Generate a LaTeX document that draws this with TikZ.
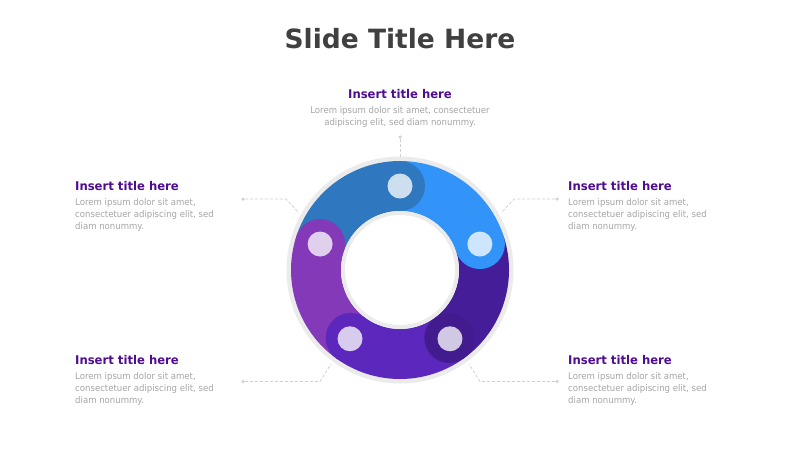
\documentclass[tikz,border=0pt]{standalone}
\usepackage{fontspec}
\setmainfont{DejaVu Sans}
\newfontfamily\bodyfont[FakeStretch=0.93]{DejaVu Sans}
\newfontfamily\headfont[FakeStretch=0.97]{DejaVu Sans}
\definecolor{titlegrey}{HTML}{404040}
\definecolor{headpurple}{HTML}{4F0D91}
\definecolor{bodygrey}{HTML}{A6A6A6}
\definecolor{ringgrey}{HTML}{EBEBEB}
\definecolor{linegrey}{HTML}{D0D0D0}
\definecolor{segA}{HTML}{2F78C0}
\definecolor{segB}{HTML}{3294F8}
\definecolor{segC}{HTML}{461D99}
\definecolor{segCcap}{HTML}{421B8E}
\definecolor{segD}{HTML}{5B27BC}
\definecolor{segE}{HTML}{8439B8}
\tikzset{
  head/.style={inner sep=0pt, font=\headfont\bfseries\fontsize{12}{14}\selectfont, text=headpurple},
  body/.style={inner sep=0pt, font=\bodyfont\fontsize{9.2}{12}\selectfont, text=bodygrey},
  conn/.style={draw=linegrey, line width=0.8pt, dash pattern=on 3pt off 2pt},
  enddot/.style={circle, fill=linegrey, inner sep=0pt, minimum size=3.5pt},
  marker/.style={circle, fill=white, fill opacity=0.76, inner sep=0pt, minimum size=25pt}
}
\begin{document}
\begin{tikzpicture}[x=1pt,y=-1pt]
\useasboundingbox (0,0) rectangle (800,450);
\fill[white] (0,0) rectangle (800,450);
% title
\node[anchor=base, inner sep=0pt, font=\bfseries\fontsize{26.5}{30}\selectfont, text=titlegrey] (title) at (400,48) {Slide Title Here};
% ring
\begin{scope}[shift={(400,270)}, yscale=-1]
  \fill[ringgrey] (0,0) circle (113.5);
  \foreach \a/\c in {162/segA, 90/segB, 18/segC, -54/segD, -126/segE}{
    \fill[\c] (\a:109) arc[start angle=\a, end angle=\a-72, radius=109]
      -- (\a-72:59) arc[start angle=\a-72, end angle=\a, radius=59] -- cycle;
  }
  \foreach \a/\c in {90/segA, 18/segB, -54/segCcap, -126/segD, 162/segE}{
    \fill[\c] (\a:84) circle (25);
  }
  \fill[ringgrey] (0,0) circle (59);
  \fill[white] (0,0) circle (55);
  \node[marker] (m1) at (90:84) {};
  \node[marker] (m2) at (18:84) {};
  \node[marker] (m3) at (-54:85) {};
  \node[marker] (m4) at (-126:85) {};
  \node[marker] (m5) at (162:84) {};
\end{scope}
% connectors
\node[enddot] (d1) at (400,137) {};
\coordinate (r1) at (400,157);
\draw[conn] (d1) -- (r1);
\node[enddot] (d2) at (243,199) {};
\coordinate (k2) at (286,199);
\coordinate (r2) at (298,212);
\draw[conn] (d2) -- (k2) -- (r2);
\node[enddot] (d3) at (557,199) {};
\coordinate (k3) at (514,199);
\coordinate (r3) at (502,212);
\draw[conn] (d3) -- (k3) -- (r3);
\node[enddot] (d4) at (243,381.5) {};
\coordinate (k4) at (320,381.5);
\coordinate (r4) at (331,364);
\draw[conn] (d4) -- (k4) -- (r4);
\node[enddot] (d5) at (557,381.5) {};
\coordinate (k5) at (480,381.5);
\coordinate (r5) at (469,364);
\draw[conn] (d5) -- (k5) -- (r5);
% text blocks (base anchor of a multi-line node = last line's baseline)
\node[head, anchor=base] (h1) at (400,98.5) {Insert title here};
\node[body, anchor=base, align=center] (b1) at (400,125) {Lorem ipsum dolor sit amet, consectetuer\\adipiscing elit, sed diam nonummy.};
\node[head, anchor=base west] (h2) at (75,190) {Insert title here};
\node[body, anchor=base west, align=left] (b2) at (75,229) {Lorem ipsum dolor sit amet,\\consectetuer adipiscing elit, sed\\diam nonummy.};
\node[head, anchor=base west] (h3) at (568,190) {Insert title here};
\node[body, anchor=base west, align=left] (b3) at (568,229) {Lorem ipsum dolor sit amet,\\consectetuer adipiscing elit, sed\\diam nonummy.};
\node[head, anchor=base west] (h4) at (75,364) {Insert title here};
\node[body, anchor=base west, align=left] (b4) at (75,403) {Lorem ipsum dolor sit amet,\\consectetuer adipiscing elit, sed\\diam nonummy.};
\node[head, anchor=base west] (h5) at (568,364) {Insert title here};
\node[body, anchor=base west, align=left] (b5) at (568,403) {Lorem ipsum dolor sit amet,\\consectetuer adipiscing elit, sed\\diam nonummy.};
\end{tikzpicture}
\end{document}
